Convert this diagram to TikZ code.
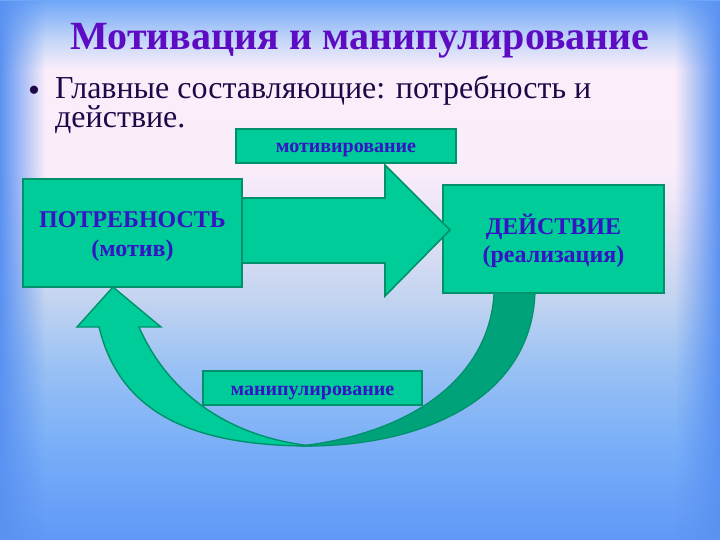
\documentclass[tikz,border=0pt]{standalone}
\usepackage{fontspec}
\setmainfont{Liberation Serif}
\newfontfamily\tnr{Liberation Serif}
\usetikzlibrary{fadings}
\definecolor{boxg}{HTML}{00CC99}
\definecolor{bord}{HTML}{00916B}
\definecolor{darkg}{HTML}{00A27A}
\definecolor{lbl}{HTML}{3414C4}
\definecolor{ttl}{HTML}{5E0BC4}
\definecolor{btxt}{HTML}{1E0848}
\definecolor{edgeb}{HTML}{5A92F2}
\definecolor{b0}{HTML}{5F98F8}
\definecolor{b1}{HTML}{78AEF8}
\definecolor{b2}{HTML}{98C0F4}
\definecolor{b3}{HTML}{C2D4F0}
\definecolor{b4}{HTML}{E8E2F6}
\definecolor{b5}{HTML}{FAEDFA}
\definecolor{b6}{HTML}{FBEEFA}
\definecolor{b7}{HTML}{C4D6F8}
\definecolor{b8}{HTML}{6EA6F8}
% path is mapped to 25bp..75bp of the shading; bottom (y=540) -> 25bp, top (y=0) -> 75bp
\pgfdeclareverticalshading{bgv}{100bp}{color(0bp)=(b0); color(25bp)=(b0); color(33.33bp)=(b1); color(40.74bp)=(b2); color(47.22bp)=(b3); color(54.63bp)=(b4); color(59.26bp)=(b5); color(68.5bp)=(b6); color(71.3bp)=(b7); color(75bp)=(b8); color(100bp)=(b8)}
\tikzset{
  gbox/.style={draw=bord, fill=boxg, line width=1.6pt, inner sep=0pt},
  bigtxt/.style={anchor=base, text=lbl, inner sep=0pt, font=\tnr\bfseries\fontsize{24}{30}\selectfont},
  smalltxt/.style={anchor=base, text=lbl, inner sep=0pt, font=\tnr\bfseries\fontsize{20}{22}\selectfont},
  arr/.style={draw=bord, fill=boxg, line width=1.6pt, line join=miter},
  darr/.style={draw=bord, fill=darkg, line width=1.2pt}
}
\begin{document}
\begin{tikzpicture}[x=1pt,y=-1pt]
\useasboundingbox (0,0) rectangle (720,540);
% background
\shade[shading=bgv] (0,0) rectangle (720,540);
\fill[edgeb, path fading=east] (0,0) rectangle (45,540);
\fill[edgeb, path fading=west] (675,0) rectangle (720,540);
% title and bullet
\node[anchor=base, text=ttl, font=\tnr\bfseries\fontsize{40}{42}\selectfont] (title) at (360,50) {Мотивация и манипулирование};
\node[anchor=base west, text=btxt, font=\tnr\fontsize{32}{27}\selectfont, inner sep=0pt, align=left] (b1) at (55,128) {Главные составляющие: потребность и\\действие.};
\node[text=btxt, font=\tnr\fontsize{34}{34}\selectfont, inner sep=0pt] (bullet) at (34,94) {•};
% right box, big arrow, left box
\node[gbox, minimum width=221pt, minimum height=108pt] (act) at (553.5,239) {};
\node[bigtxt] (actt) at (553.5,234) {ДЕЙСТВИЕ};
\node[bigtxt] (actr) at (553.5,262) {(реализация)};
\coordinate (s1) at (230,198);
\coordinate (h1) at (385,198);
\coordinate (h2) at (385,165);
\coordinate (tip) at (450,230);
\coordinate (h3) at (385,296);
\coordinate (h4) at (385,263);
\coordinate (s2) at (230,263);
\path[arr] (s1) -- (h1) -- (h2) -- (tip) -- (h3) -- (h4) -- (s2) -- cycle;
\node[gbox, minimum width=219pt, minimum height=108pt] (need) at (132.5,233) {};
\node[bigtxt] (needt) at (132.5,228) {ПОТРЕБНОСТЬ};
\node[bigtxt] (needm) at (132.5,256) {(мотив)};
\node[gbox, minimum width=220pt, minimum height=34pt] (mot) at (346,146) {};
\node[smalltxt] (mott) at (346,153) {мотивирование};
% curved arrow: dark back part
\coordinate (d1) at (494,293);
\coordinate (d2) at (535,293);
\coordinate (bot) at (300,446);
\path[darr] (d1) -- (d2) .. controls (531,400) and (420,448) .. (bot)
  .. controls (420,432) and (490,372) .. (d1) -- cycle;
% light front part with arrow head
\coordinate (ct) at (113,287);
\coordinate (cl) at (77,327);
\coordinate (co) at (99,327);
\coordinate (ci) at (139,327);
\coordinate (cr) at (161,327);
\coordinate (cend) at (312,446);
\path[arr, line width=1.4pt] (ct) -- (cr) -- (ci) .. controls (168,393) and (228,437) .. (cend)
  .. controls (200,446) and (121,418) .. (co) -- (cl) -- cycle;
\node[gbox, minimum width=219pt, minimum height=34pt] (man) at (312.5,388) {};
\node[smalltxt] (mant) at (312.5,395) {манипулирование};
\end{tikzpicture}
\end{document}
